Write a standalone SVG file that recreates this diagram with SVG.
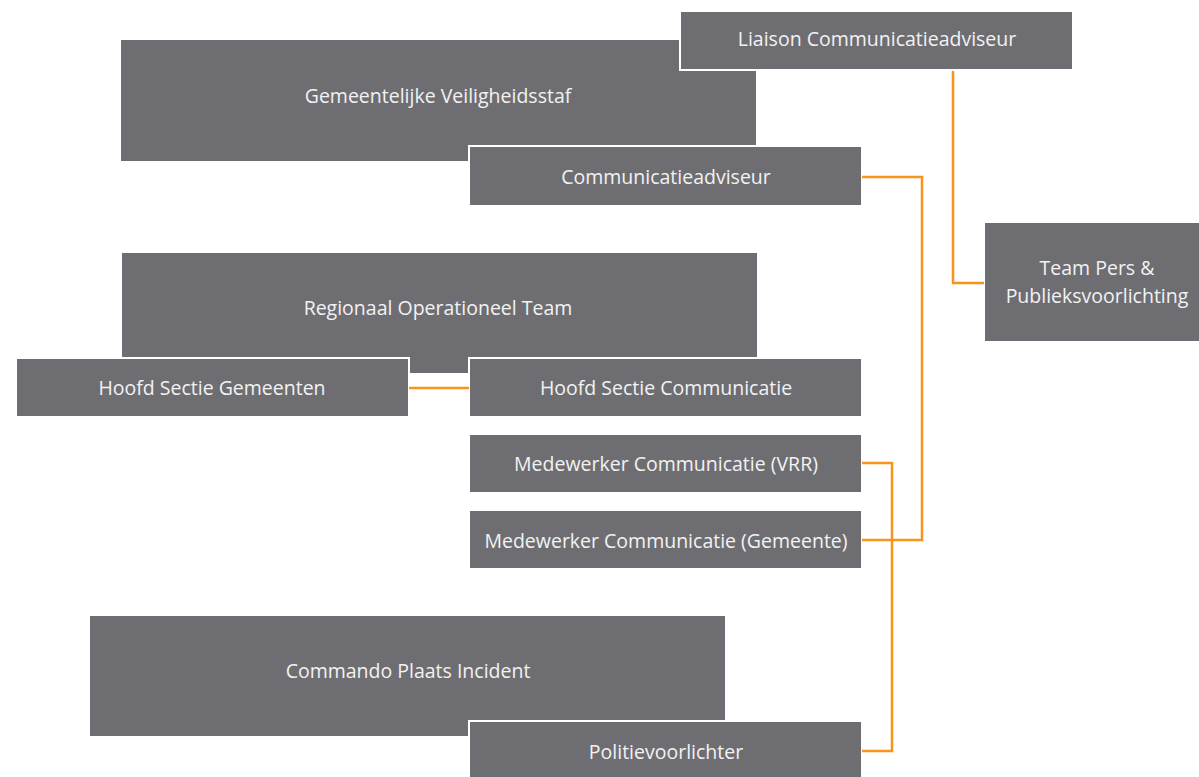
<svg xmlns="http://www.w3.org/2000/svg" width="1199" height="777" viewBox="0 0 1199 777">
<style>
.box{fill:#6e6e72;stroke:#ffffff;stroke-width:2}
.lbl{font-family:"Open Sans","Noto Sans",sans-serif;font-size:19.5px;fill:#f2f2f2;text-anchor:middle;dominant-baseline:central}
.con{fill:none;stroke:#f7941d;stroke-width:2.5}
</style>
<rect width="1199" height="777" fill="#ffffff"/>
<g id="gemeentelijke-veiligheidsstaf"><rect class="box" x="120" y="39" width="637" height="123"/><text class="lbl" x="438" y="95">Gemeentelijke Veiligheidsstaf</text></g>
<g id="liaison"><rect class="box" x="680" y="11" width="393" height="59"/><text class="lbl" x="877" y="38">Liaison Communicatieadviseur</text></g>
<g id="communicatieadviseur"><rect class="box" x="469" y="146" width="393" height="60"/><text class="lbl" x="666" y="176">Communicatieadviseur</text></g>
<g id="team-pers"><rect class="box" x="984" y="222" width="217" height="120"/><text class="lbl" x="1097" y="267">Team Pers &amp;</text><text class="lbl" x="1097" y="295">Publieksvoorlichting</text></g>
<g id="rot"><rect class="box" x="121" y="252" width="637" height="122"/><text class="lbl" x="438" y="307">Regionaal Operationeel Team</text></g>
<g id="hoofd-sectie-gemeenten"><rect class="box" x="16" y="358" width="393" height="59"/><text class="lbl" x="212" y="387">Hoofd Sectie Gemeenten</text></g>
<g id="hoofd-sectie-communicatie"><rect class="box" x="469" y="358" width="393" height="59"/><text class="lbl" x="666" y="387">Hoofd Sectie Communicatie</text></g>
<g id="medewerker-vrr"><rect class="box" x="469" y="434" width="393" height="59"/><text class="lbl" x="666" y="463">Medewerker Communicatie (VRR)</text></g>
<g id="medewerker-gemeente"><rect class="box" x="469" y="510" width="393" height="59"/><text class="lbl" x="666" y="540">Medewerker Communicatie (Gemeente)</text></g>
<g id="cpi"><rect class="box" x="89" y="615" width="637" height="122"/><text class="lbl" x="408" y="670">Commando Plaats Incident</text></g>
<g id="politievoorlichter"><rect class="box" x="469" y="721" width="393" height="60"/><text class="lbl" x="666" y="751">Politievoorlichter</text></g>
<g id="connectors">
<path class="con" d="M953 71 V283 H984"/>
<path class="con" d="M862 177 H922 V540 H862"/>
<path class="con" d="M862 463 H892 V751 H862"/>
<path class="con" d="M409 388 H469"/>
</g>
</svg>
